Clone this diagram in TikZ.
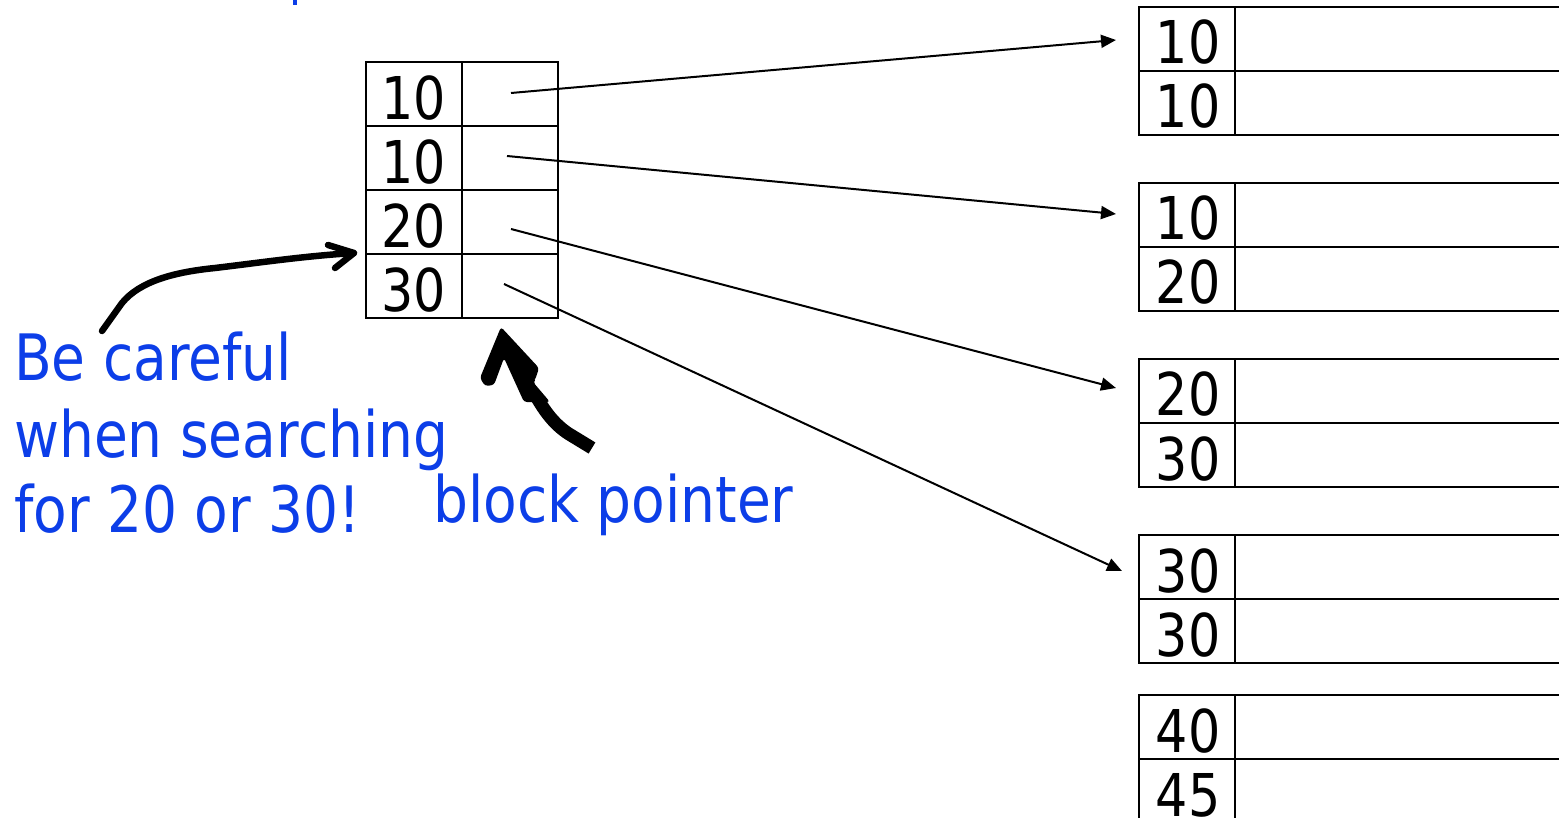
\documentclass[tikz,border=0pt]{standalone}
\usepackage{fontspec}
\setmainfont{DejaVu Sans}
\newfontfamily\tah[FakeStretch=0.86]{DejaVu Sans}
\usetikzlibrary{arrows.meta}
\definecolor{noteblue}{RGB}{12,62,232}
\tikzset{
  cell/.style={draw, line width=2pt, minimum width=96pt, minimum height=64pt, inner sep=0pt, outer sep=0pt},
  datacell/.style={draw, line width=2pt, minimum width=340pt, minimum height=64pt, inner sep=0pt, outer sep=0pt, anchor=west},
  num/.style={font=\tah\fontsize{59}{59}\selectfont, inner sep=0pt, anchor=base},
  note/.style={font=\tah\fontsize{64}{64}\selectfont, text=noteblue, inner sep=0pt, anchor=base west},
  ptr/.style={line width=2pt, -{Triangle[length=15pt,width=13pt]}},
  thick arrow/.style={line width=6.5pt, line cap=round, line join=round},
}
\begin{document}
\begin{tikzpicture}[x=1pt,y=-1pt]
\useasboundingbox (0,0) rectangle (1559,818);
\clip (0,0) rectangle (1559,818);
\fill[white] (0,0) rectangle (1559,818);
% fragment of cut-off blue text at the top
\fill[noteblue] (293,0) rectangle (297,5);

% left index block
\foreach \i/\v in {1/10,2/10,3/20,4/30}{
  \node[cell] (k\i) at (414,{30+64*\i}) {};
  \node[cell] (p\i) at (510,{30+64*\i}) {};
  \node[num] at (414,{56+64*\i}) {\v};
}

% right data blocks
\foreach \t/\top/\a/\b in {1/7/10/10,2/183/10/20,3/359/20/30,4/535/30/30,5/695/40/45}{
  \node[cell] (t\t a) at (1187,{\top+32}) {};
  \node[datacell] (d\t a) at (t\t a.east) {};
  \node[cell] (t\t b) at (1187,{\top+96}) {};
  \node[datacell] (d\t b) at (t\t b.east) {};
  \node[num] at (1188,{\top+57}) {\a};
  \node[num] at (1188,{\top+121}) {\b};
}

% pointer starts and arrow tips
\coordinate (s1) at (511,93);
\coordinate (s2) at (507,156);
\coordinate (s3) at (511,229);
\coordinate (s4) at (504,284);
\coordinate (e1) at (1116,40);
\coordinate (e2) at (1116,214);
\coordinate (e3) at (1116,388);
\coordinate (e4) at (1122,571);
\draw[ptr] (s1) -- (e1);
\draw[ptr] (s2) -- (e2);
\draw[ptr] (s3) -- (e3);
\draw[ptr] (s4) -- (e4);

% notes
\node[note] (n1) at (14,381) {Be careful};
\node[note] (n2) at (14,457) {when searching};
\node[note] (n3) at (14,532) {for 20 or 30!};
\node[note] (bp) at (433,522) {block pointer};

% thick curved arrow to the key 30 entry
\coordinate (c1s) at (102,331);
\coordinate (c1e) at (354,253);
\draw[thick arrow] (c1s) -- (122,303) .. controls (140,281) and (175,272) .. (215,268)
   .. controls (265,262) and (305,256) .. (c1e);
\draw[thick arrow] (328,245) -- (c1e) -- (335,268);

% thick arrow to the block pointer
\coordinate (c2s) at (592,448);
\coordinate (c2e) at (501,327);
\draw[line width=13pt] (c2s) -- (569,434) .. controls (555,425) and (545,412) .. (536,396);
\fill[rounded corners=3pt] (c2e) -- (539,368) -- (535,380) -- (533,382) -- (550,402) -- (524,402)
   -- (504,358) -- (494,385) -- (485,386) -- (480,378) -- cycle;
\end{tikzpicture}
\end{document}
